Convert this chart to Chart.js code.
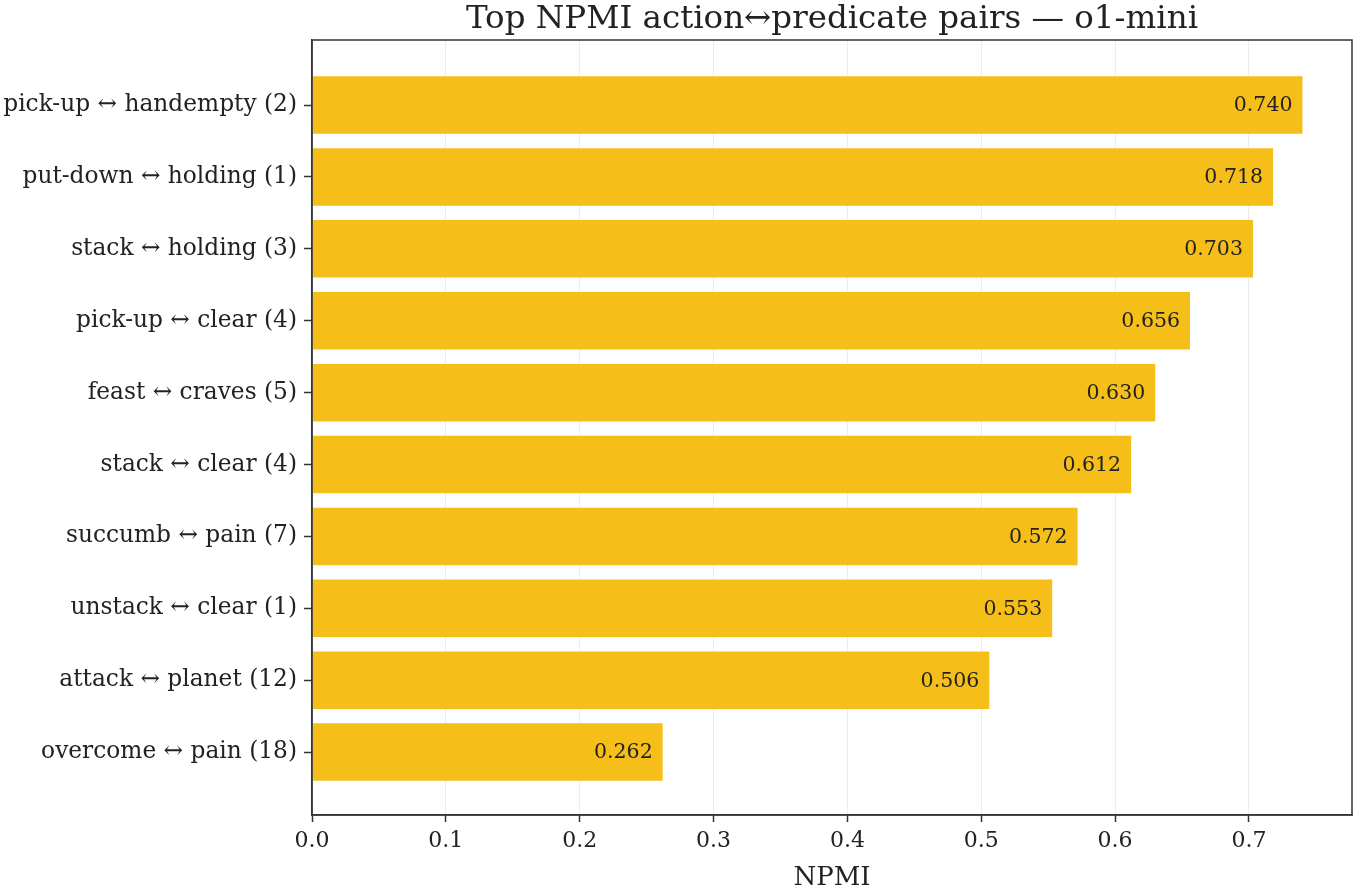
<!DOCTYPE html>
<html>
<head>
<meta charset="utf-8">
<script src="https://cdn.jsdelivr.net/npm/chart.js@4.4.1/dist/chart.umd.min.js"></script>
<style>
html,body{margin:0;padding:0;background:#fff;}
#wrap{width:1356px;height:891px;position:relative;}
</style>
</head>
<body>
<div id="wrap"><canvas id="c" width="1356" height="891"></canvas></div>
<script>
const labels = [
  "pick-up ↔ handempty (2)",
  "put-down ↔ holding (1)",
  "stack ↔ holding (3)",
  "pick-up ↔ clear (4)",
  "feast ↔ craves (5)",
  "stack ↔ clear (4)",
  "succumb ↔ pain (7)",
  "unstack ↔ clear (1)",
  "attack ↔ planet (12)",
  "overcome ↔ pain (18)"
];
const values = [0.740, 0.718, 0.703, 0.656, 0.630, 0.612, 0.572, 0.553, 0.506, 0.262];
const xTicks = [0, 0.1, 0.2, 0.3, 0.4, 0.5, 0.6, 0.7];
const titleText = "Top NPMI action↔predicate pairs — o1-mini";
const xTitle = "NPMI";

const FONT = '"DejaVu Serif", serif';
const INK = '#222222';
const AXIS = '#333333';

const extras = {
  id: 'extras',
  afterDatasetsDraw(chart) {
    const ctx = chart.ctx;
    const meta = chart.getDatasetMeta(0);
    ctx.save();
    ctx.font = '20.5px ' + FONT;
    ctx.fillStyle = INK;
    ctx.textAlign = 'right';
    ctx.textBaseline = 'middle';
    meta.data.forEach((bar, i) => {
      ctx.fillText(values[i].toFixed(3), bar.x - 10, bar.y + 1);
    });
    ctx.restore();
  },
  afterDraw(chart) {
    const ctx = chart.ctx;
    const a = chart.chartArea;
    ctx.save();
    ctx.strokeStyle = AXIS;
    ctx.lineWidth = 1.5;
    ctx.strokeRect(a.left, a.top, a.right - a.left, a.bottom - a.top);
    ctx.fillStyle = INK;
    ctx.textAlign = 'center';
    ctx.textBaseline = 'alphabetic';
    ctx.font = '32.5px ' + FONT;
    ctx.fillText(titleText, (a.left + a.right) / 2, 28);
    ctx.font = '26px ' + FONT;
    ctx.fillText(xTitle, (a.left + a.right) / 2, 885);
    ctx.restore();
  }
};

new Chart(document.getElementById('c'), {
  type: 'bar',
  data: {
    datasets: [{
      data: values.map((v, i) => ({x: v, y: i})),
      backgroundColor: '#f5be18',
      borderWidth: 0,
      barPercentage: 0.8,
      categoryPercentage: 1.0
    }]
  },
  options: {
    indexAxis: 'y',
    responsive: false,
    animation: false,
    layout: {padding: {top: 40, right: 4, left: 0, bottom: 0}},
    plugins: {legend: {display: false}, tooltip: {enabled: false}, title: {display: false}},
    scales: {
      x: {
        type: 'linear',
        min: 0,
        max: 0.777,
        z: 1,
        afterBuildTicks(scale) { scale.ticks = xTicks.map(v => ({value: v})); },
        afterFit(scale) { scale.height = 76; },
        grid: {color: 'rgba(215,215,215,0.45)', lineWidth: 1, tickLength: 7, tickColor: AXIS, tickWidth: 1.5},
        border: {display: true, color: AXIS, width: 1.5},
        ticks: {
          color: INK,
          font: {family: FONT, size: 22},
          padding: 6,
          callback: v => Number(v).toFixed(1)
        }
      },
      y: {
        type: 'linear',
        reverse: true,
        offset: false,
        min: -0.905,
        max: 9.875,
        afterBuildTicks(scale) { scale.ticks = labels.map((_, i) => ({value: i})); },
        afterFit(scale) { scale.width = 312; },
        grid: {offset: false, drawOnChartArea: false, tickLength: 8, tickColor: AXIS, tickWidth: 1.5, color: AXIS},
        border: {display: true, color: AXIS, width: 1.5},
        ticks: {
          color: INK,
          font: {family: FONT, size: 23.3},
          padding: 7,
          autoSkip: false,
          callback: v => labels[v] ?? ''
        }
      }
    }
  },
  plugins: [extras]
});
</script>
</body>
</html>
